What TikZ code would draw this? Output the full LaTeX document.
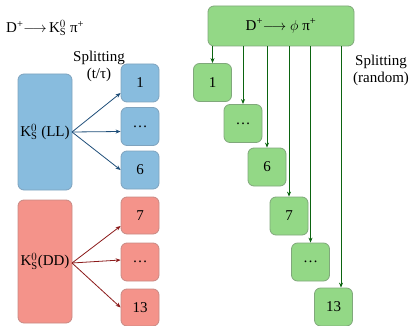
\documentclass[tikz,border=0pt]{standalone}
\usepackage{fontspec}
\setmainfont{Liberation Serif}
\newfontfamily\tnr{Liberation Serif}
\usetikzlibrary{calc,arrows.meta}
\definecolor{bfill}{HTML}{88BCDE}
\definecolor{bdraw}{HTML}{7FA3BE}
\definecolor{rfill}{HTML}{F4938A}
\definecolor{rdraw}{HTML}{C88A84}
\definecolor{gfill}{HTML}{93D886}
\definecolor{gdraw}{HTML}{80A87B}
\definecolor{barr}{HTML}{1F4E79}
\definecolor{rarr}{HTML}{8B1A1A}
\definecolor{garr}{HTML}{0B6410}
\newcommand{\KSz}{$\mathrm{K}^{0}_{\mathrm{S}}$}
\begin{document}
\begin{tikzpicture}[x=1pt,y=-1pt,
  every node/.style={font=\tnr\fontsize{15}{17}\selectfont},
  box/.style={draw, rounded corners=6pt, line width=0.8pt, inner sep=0pt, align=center},
  small/.style={box, minimum width=38pt, minimum height=38pt},
  bbox/.style={fill=bfill, draw=bdraw},
  rbox/.style={fill=rfill, draw=rdraw},
  gbox/.style={fill=gfill, draw=gdraw},
  barrow/.style={draw=barr, line width=0.8pt, -{Stealth[length=5pt,width=4pt]}},
  rarrow/.style={draw=rarr, line width=0.8pt, -{Stealth[length=5pt,width=4pt]}},
  garrow/.style={draw=garr, line width=0.8pt, -{Stealth[length=5pt,width=4pt]}},
  lbl/.style={align=center, inner sep=0pt}
]
\useasboundingbox (0,0) rectangle (409,326);

% title
\node[anchor=west, inner sep=0pt] (title) at (6,28) {D\textsuperscript{+}$\longrightarrow$\,\KSz{} π\textsuperscript{+}};

% left side
\node[box, bbox, minimum width=54pt, minimum height=116pt] (LL) at (45,132) {\KSz{} (LL)};
\node[box, rbox, minimum width=54pt, minimum height=123pt] (DD) at (45,261.5) {\KSz(DD)};

\node[small, bbox] (b1) at (140,83) {1};
\node[small, bbox] (b2) at (140,126.5) {\ldots};
\node[small, bbox] (b3) at (140,170) {6};
\node[small, rbox, minimum height=37pt] (r1) at (140,215.5) {7};
\node[small, rbox] (r2) at (140,262) {\ldots};
\node[small, rbox, minimum height=37pt] (r3) at (140,307.5) {13};

\node[lbl] (split1) at (99,66) {Splitting\\(t/τ)};

\coordinate (LLs) at (72,132);
\coordinate (DDs) at (72,263);
\draw[barrow] (LLs) -- ($(b1.west)+(0,10)$);
\draw[barrow] (LLs) -- ($(b2.west)+(0,5)$);
\draw[barrow] (LLs) -- (b3.west);
\draw[rarrow] (DDs) -- ($(r1.west)+(0,10.5)$);
\draw[rarrow] (DDs) -- ($(r2.west)+(0,-2)$);
\draw[rarrow] (DDs) -- (r3.west);

% right side
\node[box, gbox, minimum width=146pt, minimum height=40pt] (top) at (281,26) {D\textsuperscript{+}$\longrightarrow\phi$ π\textsuperscript{+}};

\node[small, gbox] (g1) at (212.5,82.5) {1};
\node[small, gbox] (g2) at (243,123.5) {\ldots};
\node[small, gbox] (g3) at (267,167) {6};
\node[small, gbox] (g4) at (289,216) {7};
\node[small, gbox] (g5) at (310.5,262) {\ldots};
\node[small, gbox] (g6) at (333.5,307) {13};

\coordinate (g6t) at ($(g6.north)+(7.5,0)$);
\draw[garrow] (top.south -| g1.north) -- (g1.north);
\draw[garrow] (top.south -| g2.north) -- (g2.north);
\draw[garrow] (top.south -| g3.north) -- (g3.north);
\draw[garrow] (top.south -| g4.north) -- (g4.north);
\draw[garrow] (top.south -| g5.north) -- (g5.north);
\draw[garrow] (top.south -| g6t) -- (g6t);

\node[lbl] (split2) at (381,70.5) {Splitting\\(random)};
\end{tikzpicture}
\end{document}
